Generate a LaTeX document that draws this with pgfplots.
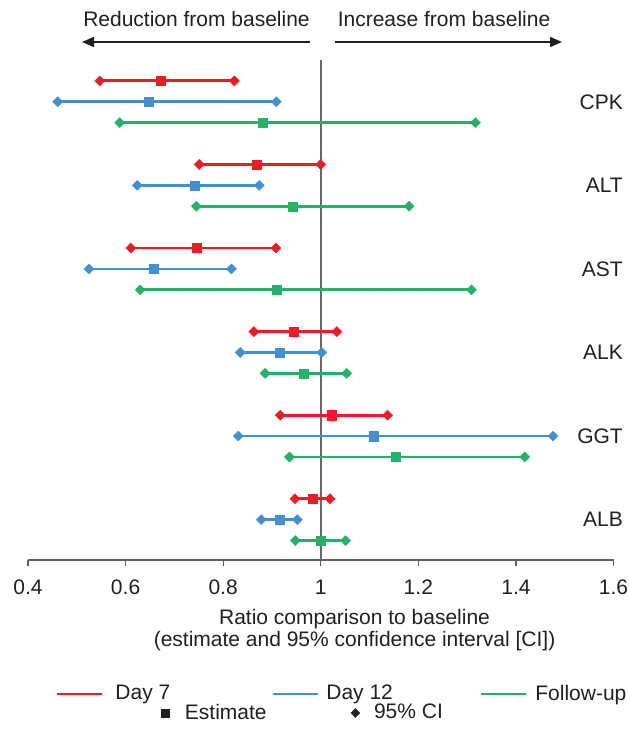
\documentclass[border=0pt]{standalone}
\usepackage{fontspec}
\setmainfont{Liberation Sans}
\usepackage{pgfplots}
\pgfplotsset{compat=1.18}
\usepackage{pgfplotstable}
\usetikzlibrary{arrows.meta}
\definecolor{cred}{RGB}{237,28,36}
\definecolor{cblue}{RGB}{64,144,210}
\definecolor{cgreen}{RGB}{34,178,104}
\definecolor{ctext}{RGB}{35,31,32}
\definecolor{axgray}{RGB}{95,95,95}
\definecolor{refgray}{RGB}{105,105,105}

% y: row position (group*4 + row), low / estimate / high
\pgfplotstableread{
y low est high
0 0.547 0.672 0.823
-4 0.751 0.868 1.000
-8 0.611 0.745 0.908
-12 0.863 0.944 1.033
-16 0.917 1.023 1.137
-20 0.947 0.984 1.019
}\daysev
\pgfplotstableread{
y low est high
-1 0.461 0.647 0.909
-5 0.624 0.742 0.874
-9 0.525 0.658 0.817
-13 0.835 0.915 1.002
-17 0.831 1.109 1.476
-21 0.878 0.916 0.952
}\daytwelve
\pgfplotstableread{
y low est high
-2 0.588 0.881 1.317
-6 0.745 0.942 1.181
-10 0.630 0.910 1.309
-14 0.886 0.965 1.053
-18 0.936 1.153 1.418
-22 0.948 1.000 1.051
}\followup

\pgfplotsset{
  ciplot/.style={
    only marks, mark=square*, mark size=4.6bp,
    mark options={draw=#1, fill=#1, line width=0.3bp},
    /pgfplots/error bars/x dir=both,
    /pgfplots/error bars/x explicit,
    /pgfplots/error bars/error mark=square*,
    /pgfplots/error bars/error mark options={draw=#1, fill=#1, rotate=45, mark size=3.6bp, line width=0.3bp},
    /pgfplots/error bars/error bar style={draw=#1, line width=2.8bp},
  },
}

\begin{document}
\fontsize{21bp}{24bp}\selectfont
\begin{tikzpicture}
\useasboundingbox (0,0) rectangle (629bp,732bp);
\begin{axis}[
  at={(28bp,172bp)}, anchor=south west,
  scale only axis, width=585.5bp, height=500bp,
  xmin=0.4, xmax=1.6, ymin=-22.93, ymax=1.0,
  axis x line*=bottom, axis y line=none,
  xtick={0.4,0.6,0.8,1,1.2,1.4,1.6}, ytick=\empty,
  tick align=outside, major tick length=6bp,
  x axis line style={draw=axgray, line width=1.3bp},
  every tick/.style={draw=axgray, line width=1.3bp},
  xticklabel style={text=ctext, yshift=-7bp},
  /pgf/number format/assume math mode=true,
  clip=false,
  legend columns=3,
  legend style={draw=none, fill=none, inner sep=0pt, outer sep=0pt,
    at={(axis description cs:0.0478,-0.268)}, anchor=west,
    nodes={inner sep=0pt, text=ctext},
    /tikz/column 1/.style={column sep=12bp},
    /tikz/column 2/.style={column sep=101.5bp},
    /tikz/column 3/.style={column sep=7bp},
    /tikz/column 4/.style={column sep=87bp},
    /tikz/column 5/.style={column sep=8bp},
  },
]
\addplot[refgray, line width=1.5bp, forget plot] coordinates {(1,1.0) (1,-22.93)};
\addplot[forget plot, ciplot=cred] table[x=est, y=y,
  x error plus expr=\thisrow{high}-\thisrow{est},
  x error minus expr=\thisrow{est}-\thisrow{low}] {\daysev};
\addplot[forget plot, ciplot=cblue] table[x=est, y=y,
  x error plus expr=\thisrow{high}-\thisrow{est},
  x error minus expr=\thisrow{est}-\thisrow{low}] {\daytwelve};
\addplot[forget plot, ciplot=cgreen] table[x=est, y=y,
  x error plus expr=\thisrow{high}-\thisrow{est},
  x error minus expr=\thisrow{est}-\thisrow{low}] {\followup};

\addlegendimage{legend image code/.code={\draw[cred, line width=2.5bp] (0bp,0bp) -- (45bp,0bp);}}
\addlegendentry{Day 7}
\addlegendimage{legend image code/.code={\draw[cblue, line width=2.5bp] (0bp,0bp) -- (45bp,0bp);}}
\addlegendentry{Day 12}
\addlegendimage{legend image code/.code={\draw[cgreen, line width=2.5bp] (0bp,0bp) -- (45bp,0bp);}}
\addlegendentry{Follow-up}

\node[anchor=east, inner sep=0pt, text=ctext, xshift=9.5bp] at (axis cs:1.6,-1) {CPK};
\node[anchor=east, inner sep=0pt, text=ctext, xshift=9.5bp] at (axis cs:1.6,-5) {ALT};
\node[anchor=east, inner sep=0pt, text=ctext, xshift=9.5bp] at (axis cs:1.6,-9) {AST};
\node[anchor=east, inner sep=0pt, text=ctext, xshift=9.5bp] at (axis cs:1.6,-13) {ALK};
\node[anchor=east, inner sep=0pt, text=ctext, xshift=9.5bp] at (axis cs:1.6,-17) {GGT};
\node[anchor=east, inner sep=0pt, text=ctext, xshift=9.5bp] at (axis cs:1.6,-21) {ALB};

\node[anchor=base, inner sep=0pt, text=ctext] at (axis description cs:0.5577,-0.128) {Ratio comparison to baseline};
\node[anchor=base, inner sep=0pt, text=ctext] at (axis description cs:0.5577,-0.174) {(estimate and 95\% confidence interval [CI])};
\end{axis}

\begin{axis}[
  at={(28bp,172bp)}, anchor=south west,
  scale only axis, width=585.5bp, height=500bp,
  xmin=0, xmax=1, ymin=0, ymax=1, hide axis,
  legend columns=2,
  legend style={draw=none, fill=none, inner sep=0pt, outer sep=0pt,
    at={(axis description cs:0.2272,-0.306)}, anchor=west,
    nodes={inner sep=0pt, text=ctext},
    /tikz/column 1/.style={column sep=15.5bp},
    /tikz/column 2/.style={column sep=84bp},
    /tikz/column 3/.style={column sep=14bp},
  },
]
\addlegendimage{legend image code/.code={\fill[ctext] (-4bp,-4bp) rectangle (4bp,4bp);}}
\addlegendentry{Estimate}
\addlegendimage{legend image code/.code={\fill[ctext] (0bp,4.5bp) -- (4.5bp,0bp) -- (0bp,-4.5bp) -- (-4.5bp,0bp) -- cycle;}}
\addlegendentry{95\% CI}
\end{axis}

\node[anchor=base, inner sep=0pt, text=ctext] at (196.5bp,705bp) {Reduction from baseline};
\node[anchor=base, inner sep=0pt, text=ctext] at (444bp,705bp) {Increase from baseline};
\draw[-{Triangle[length=12bp,width=10bp]}, line width=1.5bp, ctext] (310bp,690bp) -- (82bp,690bp);
\draw[-{Triangle[length=12bp,width=10bp]}, line width=1.5bp, ctext] (335bp,690bp) -- (562bp,690bp);
\end{tikzpicture}
\end{document}
